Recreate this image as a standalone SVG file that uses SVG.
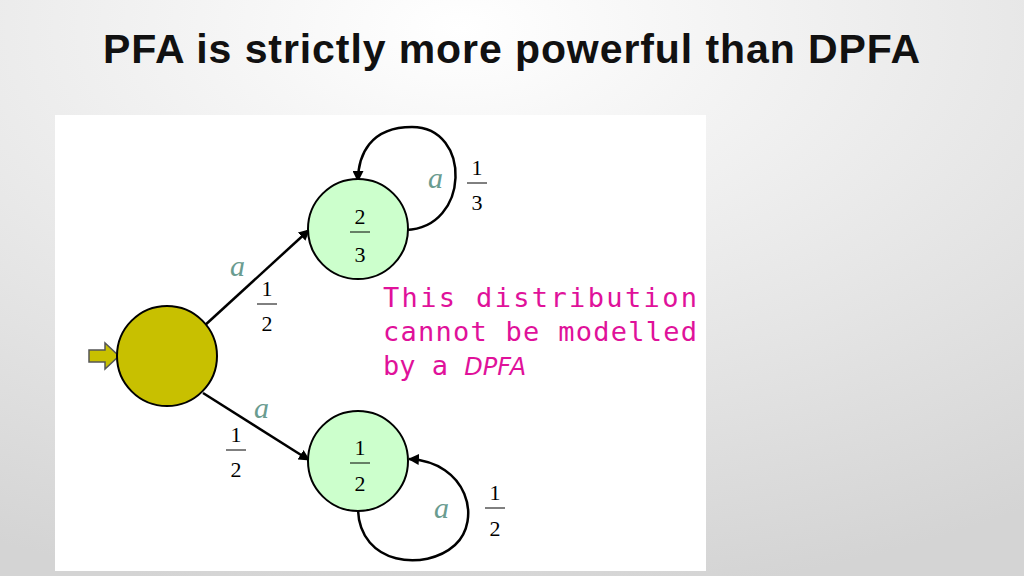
<svg xmlns="http://www.w3.org/2000/svg" width="1024" height="576" viewBox="0 0 1024 576">
<defs>
<radialGradient id="bg" cx="0.45" cy="0.05" r="1">
<stop offset="0" stop-color="#ffffff"/><stop offset="1" stop-color="#d4d4d4"/>
</radialGradient>
<marker id="ah" viewBox="0 0 10 10" refX="9" refY="5" markerWidth="11" markerHeight="11" orient="auto" markerUnits="userSpaceOnUse"><path d="M0,0 L10,5 L0,10 z" fill="#000"/></marker>
</defs>
<style>
.st{stroke:#000;stroke-width:2}
.f{font-family:"Liberation Serif",serif;font-size:22px;text-anchor:middle}
.a{font-family:"Liberation Serif",serif;font-style:italic;font-size:30px;fill:#6a9c90}
.m{font-family:"DejaVu Sans Mono",monospace;font-size:27px;fill:#e0119a}
.c{fill:none;stroke:#000;stroke-width:2.5}
</style>
<rect width="1024" height="576" fill="url(#bg)"/>
<text x="103" y="63" textLength="817" font-family="Liberation Sans,Arial,sans-serif" font-weight="bold" font-size="41" fill="#111">PFA is strictly more powerful than DPFA</text>
<rect x="55" y="115" width="651" height="456" fill="#fff"/>
<g id="connectors">
<line x1="203" y1="327" x2="309" y2="230" class="c" marker-end="url(#ah)"/>
<line x1="203" y1="393" x2="309" y2="460" class="c" marker-end="url(#ah)"/>
<path d="M406,230 C470,228 472,127 412,127 C370,127 358,155 358,181" class="c" marker-end="url(#ah)"/>
<path d="M358,510 C360,565 425,572 455,545 C482,520 468,462 409,459" class="c" marker-end="url(#ah)"/>
<path d="M89,350 H105 V343 L119,356 L105,369 V362 H89 Z" fill="#c8c000" stroke="#555" stroke-width="1.5"/>
</g>
<g id="start"><circle cx="167" cy="356" r="50" fill="#c8c000" class="st"/></g>
<g id="top"><circle cx="358" cy="229" r="50" fill="#ccffcc" class="st"/>
<text x="360" y="224" class="f">2</text><line x1="350" y1="232" x2="370" y2="232" stroke="#000"/><text x="360" y="262" class="f">3</text></g>
<g id="bottom"><circle cx="358" cy="461" r="50" fill="#ccffcc" class="st"/>
<text x="360" y="455" class="f">1</text><line x1="350" y1="463" x2="370" y2="463" stroke="#000"/><text x="360" y="491" class="f">2</text></g>
<g id="labels">
<text x="428" y="188" class="a">a</text>
<text x="477" y="175" class="f">1</text><line x1="467" y1="183" x2="487" y2="183" stroke="#000"/><text x="477" y="210" class="f">3</text>
<text x="230" y="276" class="a">a</text>
<text x="267" y="296" class="f">1</text><line x1="257" y1="304" x2="277" y2="304" stroke="#000"/><text x="267" y="331" class="f">2</text>
<text x="254" y="418" class="a">a</text>
<text x="236" y="442" class="f">1</text><line x1="226" y1="450" x2="246" y2="450" stroke="#000"/><text x="236" y="477" class="f">2</text>
<text x="434" y="518" class="a">a</text>
<text x="495" y="500" class="f">1</text><line x1="485" y1="508" x2="505" y2="508" stroke="#000"/><text x="495" y="536" class="f">2</text>
<text x="383" y="307" class="m" textLength="314">This  distribution</text>
<text x="383" y="341" class="m" textLength="314">cannot be modelled</text>
<text x="383" y="375" class="m">by a <tspan font-family="DejaVu Sans,sans-serif" font-style="italic" font-size="24">DPFA</tspan></text>
</g>
</svg>
